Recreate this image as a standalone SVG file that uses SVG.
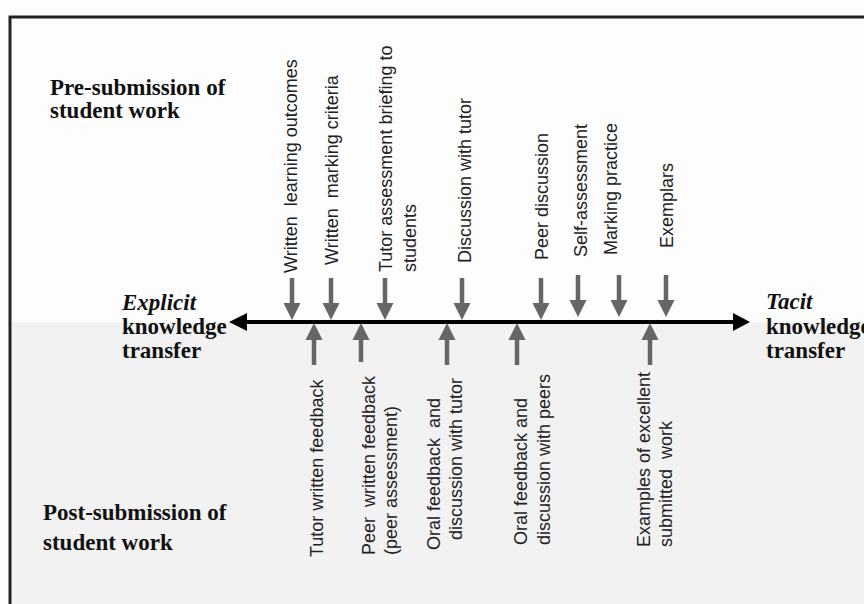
<svg xmlns="http://www.w3.org/2000/svg" width="864" height="604" viewBox="0 0 864 604">
<style>
.lbl{font-family:"Liberation Sans",Arial,sans-serif;font-size:18px;fill:#222;white-space:pre}
.hd{font-family:"Liberation Serif","Times New Roman",serif;font-size:23px;font-weight:bold;fill:#111;white-space:pre}
.it{font-style:italic}
.sh{stroke:#666;stroke-width:4.5}
.hdw{fill:#666}
</style>
<rect x="0" y="0" width="864" height="604" fill="#fdfdfd"/>
<rect x="10" y="322" width="860" height="290" fill="#f2f2f2"/>
<rect x="10" y="17" width="900" height="700" fill="none" stroke="#222" stroke-width="3"/>

<g id="pre-heading"><text class="hd" x="50" y="95">Pre-submission of</text><text class="hd" x="50" y="118">student work</text></g>
<g id="post-heading"><text class="hd" x="43" y="520">Post-submission of</text><text class="hd" x="43" y="550">student work</text></g>
<g id="explicit"><text class="hd it" x="122" y="310">Explicit</text><text class="hd" x="122" y="334">knowledge</text><text class="hd" x="122" y="358">transfer</text></g>
<g id="tacit"><text class="hd it" x="766" y="309">Tacit</text><text class="hd" x="766" y="334">knowledge</text><text class="hd" x="766" y="358">transfer</text></g>

<g id="written-learning-outcomes"><text class="lbl" transform="translate(297,273) rotate(-90)">Written  learning outcomes</text></g>
<g id="written-marking-criteria"><text class="lbl" transform="translate(338,265) rotate(-90)">Written  marking criteria</text></g>
<g id="tutor-briefing"><text class="lbl" transform="translate(392,272) rotate(-90)">Tutor assessment briefing to</text><text class="lbl" transform="translate(416,272) rotate(-90)">students</text></g>
<g id="discussion-tutor"><text class="lbl" transform="translate(471,263) rotate(-90)">Discussion with tutor</text></g>
<g id="peer-discussion"><text class="lbl" transform="translate(548,260) rotate(-90)">Peer discussion</text></g>
<g id="self-assessment"><text class="lbl" transform="translate(587,257) rotate(-90)">Self-assessment</text></g>
<g id="marking-practice"><text class="lbl" transform="translate(617,255) rotate(-90)">Marking practice</text></g>
<g id="exemplars"><text class="lbl" transform="translate(673,248) rotate(-90)">Exemplars</text></g>

<g id="tutor-written-feedback"><text class="lbl" transform="translate(323,557) rotate(-90)">Tutor written feedback</text></g>
<g id="peer-written-feedback"><text class="lbl" transform="translate(375,555) rotate(-90)">Peer  written feedback</text><text class="lbl" transform="translate(397,555) rotate(-90)">(peer assessment)</text></g>
<g id="oral-tutor"><text class="lbl" transform="translate(440,550) rotate(-90)">Oral feedback  and</text><text class="lbl" transform="translate(462,540) rotate(-90)">discussion with tutor</text></g>
<g id="oral-peers"><text class="lbl" transform="translate(527,545) rotate(-90)">Oral feedback and</text><text class="lbl" transform="translate(550,545) rotate(-90)">discussion with peers</text></g>
<g id="examples"><text class="lbl" transform="translate(650,547) rotate(-90)">Examples of excellent</text><text class="lbl" transform="translate(672,547) rotate(-90)">submitted  work</text></g>

<g id="connectors">
<line x1="245" y1="322" x2="735" y2="322" stroke="#000" stroke-width="4"/>
<polygon points="229,322 247,313 247,331" fill="#000"/>
<polygon points="750,322 733,313 733,331" fill="#000"/>
<g class="down">
<line class="sh" x1="292" y1="278" x2="292" y2="305"/><polygon class="hdw" points="283.5,303 300.5,303 292,320"/>
<line class="sh" x1="331" y1="278" x2="331" y2="305"/><polygon class="hdw" points="322.5,303 339.5,303 331,320"/>
<line class="sh" x1="385" y1="278" x2="385" y2="305"/><polygon class="hdw" points="376.5,303 393.5,303 385,320"/>
<line class="sh" x1="462" y1="278" x2="462" y2="305"/><polygon class="hdw" points="453.5,303 470.5,303 462,320"/>
<line class="sh" x1="541" y1="278" x2="541" y2="305"/><polygon class="hdw" points="532.5,303 549.5,303 541,320"/>
<line class="sh" x1="578" y1="275" x2="578" y2="302"/><polygon class="hdw" points="569.5,300 586.5,300 578,317"/>
<line class="sh" x1="619" y1="275" x2="619" y2="302"/><polygon class="hdw" points="610.5,300 627.5,300 619,317"/>
<line class="sh" x1="666" y1="275" x2="666" y2="302"/><polygon class="hdw" points="657.5,300 674.5,300 666,317"/>
</g>
<g class="up">
<line class="sh" x1="314" y1="337" x2="314" y2="365"/><polygon class="hdw" points="305.5,340 322.5,340 314,323"/>
<line class="sh" x1="361" y1="337" x2="361" y2="362"/><polygon class="hdw" points="352.5,340 369.5,340 361,323"/>
<line class="sh" x1="447" y1="337" x2="447" y2="365"/><polygon class="hdw" points="438.5,340 455.5,340 447,323"/>
<line class="sh" x1="517" y1="337" x2="517" y2="365"/><polygon class="hdw" points="508.5,340 525.5,340 517,323"/>
<line class="sh" x1="650" y1="337" x2="650" y2="365"/><polygon class="hdw" points="641.5,340 658.5,340 650,323"/>
</g>
</g>
</svg>
